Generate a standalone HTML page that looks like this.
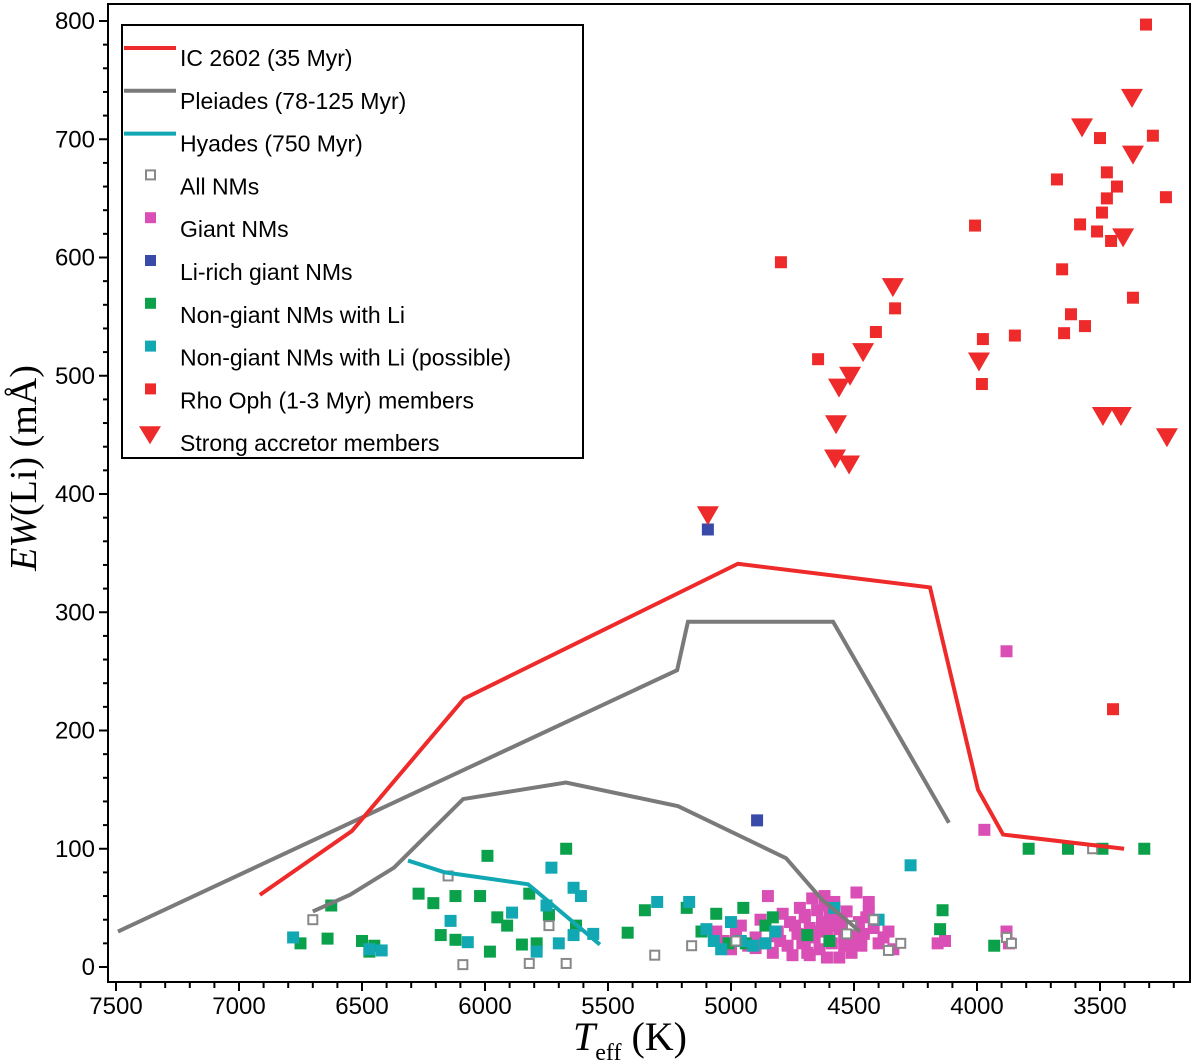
<!DOCTYPE html>
<html><head><meta charset="utf-8"><style>
body{margin:0;background:#fff;}
svg{display:block;}
text{font-family:"Liberation Sans",sans-serif;}
text.serif{font-family:"Liberation Serif",serif;}
</style></head><body>
<svg id="chart" width="1200" height="1063" viewBox="0 0 1200 1063" xmlns="http://www.w3.org/2000/svg"></svg>
<script>
const xTicks=[7500,7000,6500,6000,5500,5000,4500,4000,3500];
const yTicks=[0,100,200,300,400,500,600,700,800];
const ic2602T=[6915,6541,6085,4972,4191,3996,3894,3402];
const ic2602EW=[61,115,227,341,321,150,112,100];
const pleiadesUpT=[7492,5219,5175,4585,4114];
const pleiadesUpEW=[30,251,292,292,122];
const pleiadesLoT=[6700,6549,6370,6089,5671,5215,4776,4630,4476];
const pleiadesLoEW=[47,61,84,142,156,136,92,57,30];
const hyadesT=[6313,6163,5825,5533];
const hyadesEW=[90,80,70,19];
const rhoT=[3313,3285,3500,3675,3431,3472,3492,3581,3512,3232,4008,4797,3654,3618,3366,3646,3561,4333,4411,4646,3976,3846,3980,3447,3472,3455];
const rhoEW=[797,703,701,666,660,650,638,628,622,651,627,596,590,552,566,536,542,557,537,514,531,534,493,218,672,614];
const accT=[3573,3370,3366,3406,4342,4463,4516,4561,4573,4577,4520,3992,3488,3415,3228,5094];
const accEW=[710,735,687,617,575,520,500,490,459,430,425,512,466,466,448,382];
const liRichT=[5094,4894];
const liRichEW=[370,124];
const greenT=[6625,6750,6500,6640,6470,6270,6210,6120,6020,5990,5950,5910,5850,5980,5750,5670,5820,5790,5740,6180,6120,5630,5420,5350,5180,5120,5060,4950,4830,4690,4600,4140,4150,3930,3790,3630,3490,3320,5010,4940,4860,6450];
const greenEW=[52,20,22,24,13,62,54,60,60,94,42,35,19,13,52,100,62,20,44,27,23,35,29,48,50,30,45,50,42,27,22,48,32,18,100,100,100,100,20,20,35,18];
const cyanT=[6780,6470,6420,6140,6070,5890,5640,5610,5640,5700,5560,5730,5750,5790,5300,5170,5100,5070,4960,5040,4860,4910,4580,4400,4270,5000,4820];
const cyanEW=[25,15,14,39,21,46,67,60,27,20,28,84,52,13,55,55,32,22,22,15,20,18,50,40,86,38,30];
const openT=[6700,6150,6090,5820,5740,5670,5310,5160,4980,4510,4420,4360,4310,3880,3860,3530,4530];
const openEW=[40,77,2,3,35,3,10,18,22,35,40,14,20,25,20,100,28];
const giantT=[3970,3880,4160,4130,3880,3870,5060,5030,5000,4980,4960,4930,4900,4880,4860,4850,4830,4810,4800,4790,4770,4750,4740,4730,4720,4710,4700,4690,4680,4670,4660,4650,4640,4630,4620,4610,4600,4590,4580,4570,4560,4550,4540,4530,4520,4510,4500,4490,4480,4470,4460,4450,4440,4420,4400,4380,4360,4340,4760,4700,4650,4600,4560,4520,4480,4620,4580,4540,4900,4820,4680,4440,4700,4610];
const giantEW=[116,267,20,22,30,20,30,22,15,28,35,18,25,40,20,60,12,30,22,45,18,10,35,28,50,20,42,12,33,58,25,48,15,38,60,30,44,20,55,35,8,40,25,47,30,12,22,63,38,18,28,42,55,33,20,25,30,15,38,44,30,36,32,22,26,52,41,18,16,26,10,46,22,8];

const svg=document.getElementById('chart');
const NS='http://www.w3.org/2000/svg';
const X0=116,X1=1100,Y0=967,Y1=21;
function sx(t){return X0+(7500-t)*(X1-X0)/4000;}
function sy(v){return Y0-v*(Y0-Y1)/800;}
function el(tag,attrs,parent){const e=document.createElementNS(NS,tag);for(const k in attrs)e.setAttribute(k,attrs[k]);(parent||svg).appendChild(e);return e;}

const frame=el('rect',{x:108,y:4,width:1082,height:978,fill:'none',stroke:'#000','stroke-width':2});



const xg=el('g',{});


for(let t=7500;t>=3200;t-=100){const major=t%500===0;el('line',{x1:sx(t),x2:sx(t),y1:982,y2:major?991:988,stroke:'#000','stroke-width':2},xg);}
xTicks.forEach(t=>{const tx=el('text',{x:sx(t),y:1014,'font-size':24,'text-anchor':'middle'},xg);tx.textContent=t;

});
const yg=el('g',{});


for(let v=0;v<=820;v+=20){const major=v%100===0;el('line',{x1:108,x2:major?99:103,y1:sy(v),y2:sy(v),stroke:'#000','stroke-width':2},yg);}
yTicks.forEach(v=>{const tx=el('text',{x:95,y:sy(v)+8,'font-size':24,'text-anchor':'end'},yg);tx.textContent=v;

});

const yt=el('text',{x:0,y:0,'font-size':38,'text-anchor':'middle',transform:'translate(36,468) rotate(-90)',class:'serif'});
yt.innerHTML='<tspan font-style="italic">EW</tspan>(Li) (mÅ)';


const xt=el('text',{x:630,y:1050,'font-size':40,'text-anchor':'middle',class:'serif'});
xt.innerHTML='<tspan font-style="italic">T</tspan><tspan font-size="24" dy="10">eff</tspan><tspan dy="-10"> (K)</tspan>';



function line(T,E,color,name){const p=el('polyline',{points:T.map((t,i)=>sx(t)+','+sy(E[i])).join(' '),fill:'none',stroke:color,'stroke-width':4,'stroke-linejoin':'miter'});

}
function sq(T,E,fill,name,open){const g=el('g',{});


T.forEach((t,i)=>{const s=open?9:12;el('rect',{x:sx(t)-s/2,y:sy(E[i])-s/2,width:s,height:s,fill:open?'#fff':fill,stroke:open?fill:'none','stroke-width':open?2:0},g);});}
function tri(T,E,name){const g=el('g',{});


T.forEach((t,i)=>{const x=sx(t),y=sy(E[i]);el('polygon',{points:`${x-11},${y-9} ${x+11},${y-9} ${x},${y+10}`,fill:'#ee2a2a'},g);});}

sq(giantT,giantEW,'#d94fb5','giant-nm-points');
sq(greenT,greenEW,'#0ba14b','nongiant-li-points');
sq(cyanT,cyanEW,'#12a8b3','nongiant-li-possible-points');
sq(openT,openEW,'#888','all-nm-points',true);
line(hyadesT,hyadesEW,'#12a8b3','hyades-line');
line(pleiadesLoT,pleiadesLoEW,'#7a7a7a','pleiades-lower-line');
line(pleiadesUpT,pleiadesUpEW,'#7a7a7a','pleiades-upper-line');
line(ic2602T,ic2602EW,'#ee2a2a','ic2602-line');
sq(liRichT,liRichEW,'#3a4aa8','li-rich-giant-points');
sq(rhoT,rhoEW,'#ee2a2a','rho-oph-points');
tri(accT,accEW,'strong-accretor-points');

const lg=el('g',{});


el('rect',{x:122,y:25,width:461,height:433,fill:'#fff',stroke:'#000','stroke-width':2},lg);
const labels=['IC 2602 (35 Myr)','Pleiades (78-125 Myr)','Hyades (750 Myr)','All NMs','Giant NMs','Li-rich giant NMs','Non-giant NMs with Li','Non-giant NMs with Li (possible)','Rho Oph (1-3 Myr) members','Strong accretor members'];
const kinds=[['l','#ee2a2a'],['l','#7a7a7a'],['l','#12a8b3'],['o','#888'],['s','#d94fb5'],['s','#3a4aa8'],['s','#0ba14b'],['s','#12a8b3'],['s','#ee2a2a'],['t','#ee2a2a']];
labels.forEach((lab,i)=>{const y=58+i*42.8;const g=el('g',{},lg);


const [k,c]=kinds[i];
if(k==='l')el('line',{x1:124,x2:176,y1:y-10,y2:y-10,stroke:c,'stroke-width':4},g);
else if(k==='o')el('rect',{x:146,y:y-16,width:9,height:9,fill:'#fff',stroke:c,'stroke-width':2},g);
else if(k==='s')el('rect',{x:145,y:y-17,width:11,height:11,fill:c},g);
else el('polygon',{points:`${139},${y-17} ${161},${y-17} ${150},${y+1}`,fill:c},g);
const tx=el('text',{x:180,y:y+8,'font-size':23},g);tx.textContent=lab;});
</script>
</body></html>
